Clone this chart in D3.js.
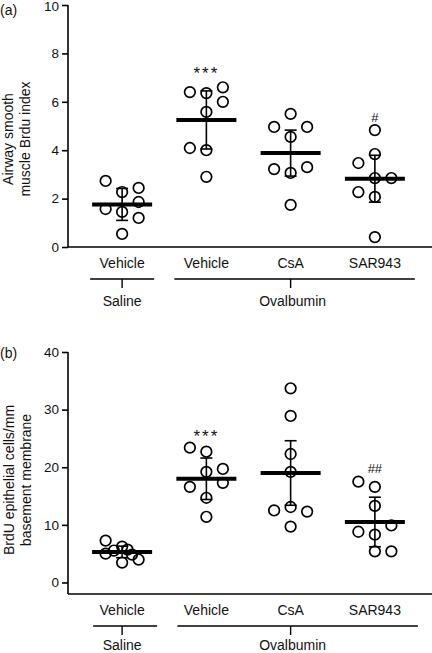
<!DOCTYPE html>
<html><head><meta charset="utf-8">
<script src="https://cdn.jsdelivr.net/npm/d3@7"></script>
<style>body{margin:0;background:#fff}svg{display:block;font-family:"Liberation Sans",Arial,sans-serif}</style>
</head><body><svg id="c" width="432" height="653"></svg>
<script>
const categories = ["Vehicle","Vehicle","CsA","SAR943"];
const treatments = [{label:"Saline", from:0, to:0},{label:"Ovalbumin", from:1, to:3}];

// Panel (a): Airway smooth muscle BrdU index
const aValues = [
  [2.73,2.27,2.44,1.86,1.57,1.45,1.2,0.54],
  [6.4,6.36,6.6,6.0,5.58,4.09,4.0,2.9],
  [5.5,4.96,4.96,4.55,3.22,3.3,3.06,1.74],
  [4.83,3.84,3.47,2.85,2.85,2.27,2.07,0.41]
];
const aLanes = [
  [-1,0,1,1,-1,0,1,0],
  [-1,0,1,1,0,-1,0,0],
  [0,-1,1,0,-1,1,0,0],
  [0,0,-1,0,1,-1,0,0]
];
const aMeans = [1.76,5.25,3.88,2.82];
const aErr = [0.66,1.2,0.95,0.97];
const aSig = ["","***","","#"];
const aTicks = [0,2,4,6,8,10];

// Panel (b): BrdU epithelial cells/mm basement membrane
const bValues = [
  [7.27,6.23,5.0,5.54,5.7,4.84,3.46,3.98],
  [23.4,22.7,19.7,19.2,17.3,16.6,14.7,11.4],
  [33.7,28.9,22.3,19.2,13.1,12.5,12.3,9.7],
  [17.5,16.6,13.3,9.9,8.8,8.3,5.4,5.4]
];
const bLanes = [
  [-1,0,-1,-0.5,0.33,0.6,0,1],
  [-1,0,1,0,1,-1,0,0],
  [0,0,0,0,0,-1,1,0],
  [-1,0,0,1,-1,0,0,1]
];
const bMeans = [5.3,18.0,19.0,10.5];
const bErr = [1.0,3.6,5.6,4.3];
const bSig = ["","***","","##"];
const bTicks = [0,10,20,30,40];

const svg = d3.select("#c");
const x = d3.scalePoint().domain(d3.range(categories.length)).range([80,417]).padding(0.5);

function panel(cfg){
  const g = svg.append("g").attr("transform",`translate(0,${cfg.dy})`);
  const y = d3.scaleLinear().domain(cfg.domain).range([cfg.h,0]);
  const axisX = 68;
  const ya = g.append("g").attr("transform",`translate(${axisX},0)`)
    .call(d3.axisLeft(y).tickValues(cfg.ticks).tickSize(6).tickPadding(3).tickSizeOuter(0));
  ya.select(".domain").remove();
  ya.append("line").attr("x1",0).attr("x2",0).attr("y1",y(cfg.ticks[cfg.ticks.length-1])).attr("y2",cfg.h)
    .attr("stroke","#000").attr("stroke-width",1.6);
  ya.selectAll(".tick line").attr("stroke-width",1.6);
  ya.selectAll(".tick text").attr("font-size",13.5).attr("fill","#111").attr("font-family","Liberation Sans, Arial, sans-serif")
    .attr("dy",(d,i)=> d===cfg.ticks[cfg.ticks.length-1] && cfg.dy<10 ? "0.42em" : "0.32em");
  g.append("line").attr("x1",axisX).attr("x2",432).attr("y1",cfg.h).attr("y2",cfg.h).attr("stroke","#000").attr("stroke-width",1.6);
  g.selectAll(".cat").data(categories).join("text")
    .attr("x",(d,i)=>x(i)).attr("y",cfg.h+21).attr("text-anchor","middle").attr("font-size",14).attr("fill","#111").text(d=>d);
  const by = cfg.h+32;
  treatments.forEach(t=>{
    const x0 = x(t.from)-32+cfg.bs, x1 = x(t.to)+(t.from===t.to?32:40)+cfg.bs;
    const xm = (x(t.from)+x(t.to))/2;
    g.append("line").attr("x1",x0).attr("x2",x1).attr("y1",by).attr("y2",by).attr("stroke","#000").attr("stroke-width",1.4);
    g.append("line").attr("x1",xm).attr("x2",xm).attr("y1",by).attr("y2",by+9).attr("stroke","#000").attr("stroke-width",1.4);
    g.append("text").attr("x",xm+ (t.from===t.to?0:2)).attr("y",by+cfg.tl).attr("text-anchor","middle").attr("font-size",14).attr("fill","#111").text(t.label);
  });
  categories.forEach((c,i)=>{
    const pts = cfg.values[i].map((v,j)=>({v, lane:cfg.lanes[i][j]}));
    g.append("g").selectAll("circle").data(pts).join("circle")
      .attr("cx",d=>x(i)+d.lane*16.5).attr("cy",d=>y(d.v)).attr("r",5.3)
      .attr("fill","none").attr("stroke","#000").attr("stroke-width",1.7);
    const m = cfg.means[i], e = cfg.err[i];
    g.append("line").attr("x1",x(i)).attr("x2",x(i)).attr("y1",y(m+e)).attr("y2",y(m-e)).attr("stroke","#000").attr("stroke-width",1.6);
    [m+e,m-e].forEach(v=>g.append("line").attr("x1",x(i)-6).attr("x2",x(i)+6).attr("y1",y(v)).attr("y2",y(v)).attr("stroke","#000").attr("stroke-width",1.6));
    g.append("line").attr("x1",x(i)-30).attr("x2",x(i)+30).attr("y1",y(m)).attr("y2",y(m)).attr("stroke","#000").attr("stroke-width",4);
    if(cfg.sig[i]){
      const top = d3.max(cfg.values[i]);
      const isStar = cfg.sig[i].includes("*");
      g.append("text").attr("x",x(i)).attr("y",y(top)-cfg.sigOff[isStar?0:1]).attr("text-anchor","middle")
        .attr("font-size",isStar?17:13).attr("letter-spacing",isStar?2:0).attr("fill","#111").text(cfg.sig[i]);
    }
  });
  const yl = g.append("text").attr("transform",`translate(0,${cfg.ly}) rotate(-90)`).attr("text-anchor","middle").attr("font-size",14).attr("fill","#111");
  yl.append("tspan").attr("x",0).attr("y",cfg.lx[0]).text(cfg.label[0]);
  yl.append("tspan").attr("x",0).attr("y",cfg.lx[1]).text(cfg.label[1]);
  g.append("text").attr("x",0).attr("y",cfg.py).attr("font-size",14).attr("fill","#111").text(cfg.letter);
}

panel({dy:5, h:242, domain:[0,10], ticks:aTicks, values:aValues, lanes:aLanes, means:aMeans, err:aErr, sig:aSig,
  sigOff:[8,8], label:["Airway smooth","muscle Brdu index"], lx:[13,30], ly:134, letter:"(a)", py:10, bs:0, tl:27});
panel({dy:352, h:242, domain:[-2,40], ticks:bTicks, values:bValues, lanes:bLanes, means:bMeans, err:bErr, sig:bSig,
  sigOff:[6,9], label:["BrdU epithelial cells/mm","basement membrane"], lx:[14,31], ly:128, letter:"(b)", py:6, bs:3, tl:24});
</script></body></html>
